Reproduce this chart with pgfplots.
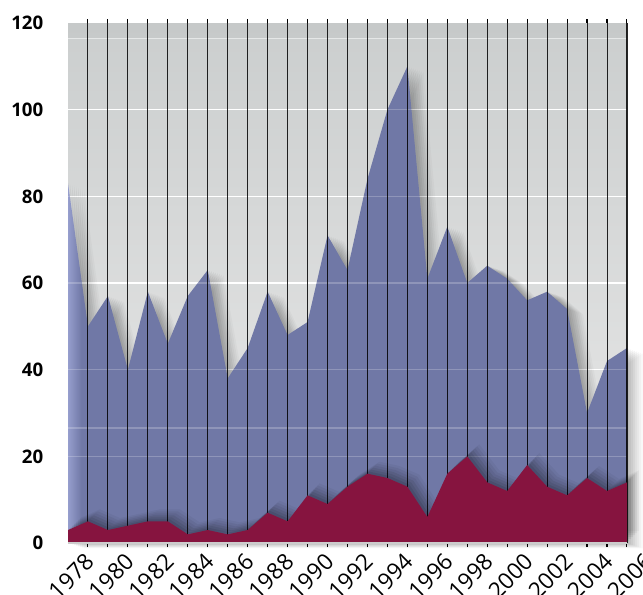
\documentclass[border=0pt]{standalone}
\usepackage{pgfplots}
\pgfplotsset{compat=1.18}
\usepackage{pgfplotstable}
\usepackage{fontspec}
\setmainfont{Open Sans}
\definecolor{bluefill}{RGB}{112,120,166}
\definecolor{blueedge}{RGB}{150,158,205}
\definecolor{redfill}{RGB}{134,20,63}
\definecolor{bgtop}{RGB}{203,206,206}
\definecolor{bgbot}{RGB}{233,233,233}
\pgfdeclarehorizontalshading{bluesh}{100bp}{color(0bp)=(blueedge); color(25bp)=(blueedge); color(26.2bp)=(bluefill); color(100bp)=(bluefill)}

\pgfplotstableread{
year total sub
1977 83 3
1978 50 5
1979 57 3
1980 40 4
1981 58 5
1982 46 5
1983 57 2
1984 63 3
1985 38 2
1986 45 3
1987 58 7
1988 48 5
1989 51 11
1990 71 9
1991 63 13
1992 84 16
1993 100 15
1994 110 13
1995 61 6
1996 73 16
1997 60 20
1998 64 14
1999 61 12
2000 56 18
2001 58 13
2002 54 11
2003 30 15
2004 42 12
2005 45 14
}\data

\begin{document}
\begin{tikzpicture}
\begin{axis}[
  scale only axis,
  width=434.2pt, height=390pt,
  xmin=1977, xmax=2006, ymin=0, ymax=120,
  axis line style={draw=none},
  clip=false,
  ytick={0,20,...,120},
  ytick style={draw=none},
  xtick={1978,1980,...,2006},
  major x tick style={draw=none},
  extra x ticks={1978,1979,...,2005},
  extra x tick labels={},
  extra x tick style={major tick length=3pt, tick align=outside, major x tick style={draw=black, line width=0.8pt}},
  /pgf/number format/assume math mode=true,
  /pgf/number format/1000 sep={},
  x tick label style={xshift=-3pt, yshift=-5pt, rotate=45, anchor=north east, font=\fontsize{17}{19}\selectfont, inner sep=1pt},
  y tick label style={font=\bfseries\fontsize{14}{16}\selectfont, xshift=-15pt},
]
% background
\fill[top color=bgtop, bottom color=bgbot] (axis cs:1977,0) rectangle (axis cs:2005,120);
\fill[black, opacity=0.025] (axis cs:1977,116.5) rectangle (axis cs:2005,120);
\pgfplotsinvokeforeach{20,40,60,80,100}{\draw[white, line width=1.1pt] (axis cs:1977,#1) -- (axis cs:2005,#1);}
\draw[white, opacity=0.5, line width=0.8pt] (axis cs:1977,116.5) -- (axis cs:2005,116.5);
% blue shadow (soft, offset to the right)
\addplot[draw=none, fill=black, opacity=0.045, xshift=1.5pt, yshift=-0.5pt] table[x=year,y=total]{\data} \closedcycle;
\addplot[draw=none, fill=black, opacity=0.045, xshift=3pt, yshift=-1pt] table[x=year,y=total]{\data} \closedcycle;
\addplot[draw=none, fill=black, opacity=0.045, xshift=4.5pt, yshift=-1.5pt] table[x=year,y=total]{\data} \closedcycle;
\addplot[draw=none, fill=black, opacity=0.045, xshift=6pt, yshift=-2pt] table[x=year,y=total]{\data} \closedcycle;
\addplot[draw=none, fill=black, opacity=0.04, xshift=7.5pt, yshift=-2.5pt] table[x=year,y=total]{\data} \closedcycle;
\addplot[draw=none, fill=black, opacity=0.035, xshift=9pt, yshift=-3pt] table[x=year,y=total]{\data} \closedcycle;
\addplot[draw=none, fill=black, opacity=0.03, xshift=10.5pt, yshift=-3.5pt] table[x=year,y=total]{\data} \closedcycle;
\addplot[draw=none, fill=black, opacity=0.025, xshift=12pt, yshift=-4pt] table[x=year,y=total]{\data} \closedcycle;
% blue area
\addplot[draw=none, shading=bluesh] table[x=year,y=total]{\data} \closedcycle;
\pgfplotsinvokeforeach{20,26.5,40,60,80,100}{\draw[white, opacity=0.22, line width=1.1pt] (axis cs:1977,#1) -- (axis cs:2005,#1);}
% vertical lines
\pgfplotsinvokeforeach{1978,1979,...,2005}{\draw[black, opacity=0.85, line width=0.8pt] (axis cs:#1,0) -- (axis cs:#1,120);}
% red shadow (soft glow above)
\addplot[draw=none, fill=black, opacity=0.08, xshift=1.5pt, yshift=1.5pt] table[x=year,y=sub]{\data} \closedcycle;
\addplot[draw=none, fill=black, opacity=0.08, xshift=3pt, yshift=3pt] table[x=year,y=sub]{\data} \closedcycle;
\addplot[draw=none, fill=black, opacity=0.07, xshift=4.5pt, yshift=4.5pt] table[x=year,y=sub]{\data} \closedcycle;
\addplot[draw=none, fill=black, opacity=0.06, xshift=6pt, yshift=6pt] table[x=year,y=sub]{\data} \closedcycle;
\addplot[draw=none, fill=black, opacity=0.05, xshift=7.5pt, yshift=7.5pt] table[x=year,y=sub]{\data} \closedcycle;
\addplot[draw=none, fill=black, opacity=0.04, xshift=9pt, yshift=9pt] table[x=year,y=sub]{\data} \closedcycle;
% red area
\addplot[draw=none, fill=redfill] table[x=year,y=sub]{\data} \closedcycle;
\draw[black!20, line width=1pt] (axis cs:1977,0) -- (axis cs:2005,0);
\coordinate (bl) at (axis cs:1977,0);
\coordinate (tr) at (axis cs:2005,120);
\end{axis}
\pgfresetboundingbox
\path ([xshift=-51pt,yshift=-38.25pt]bl) rectangle ([xshift=12pt,yshift=17.25pt]tr);
\end{tikzpicture}
\end{document}
